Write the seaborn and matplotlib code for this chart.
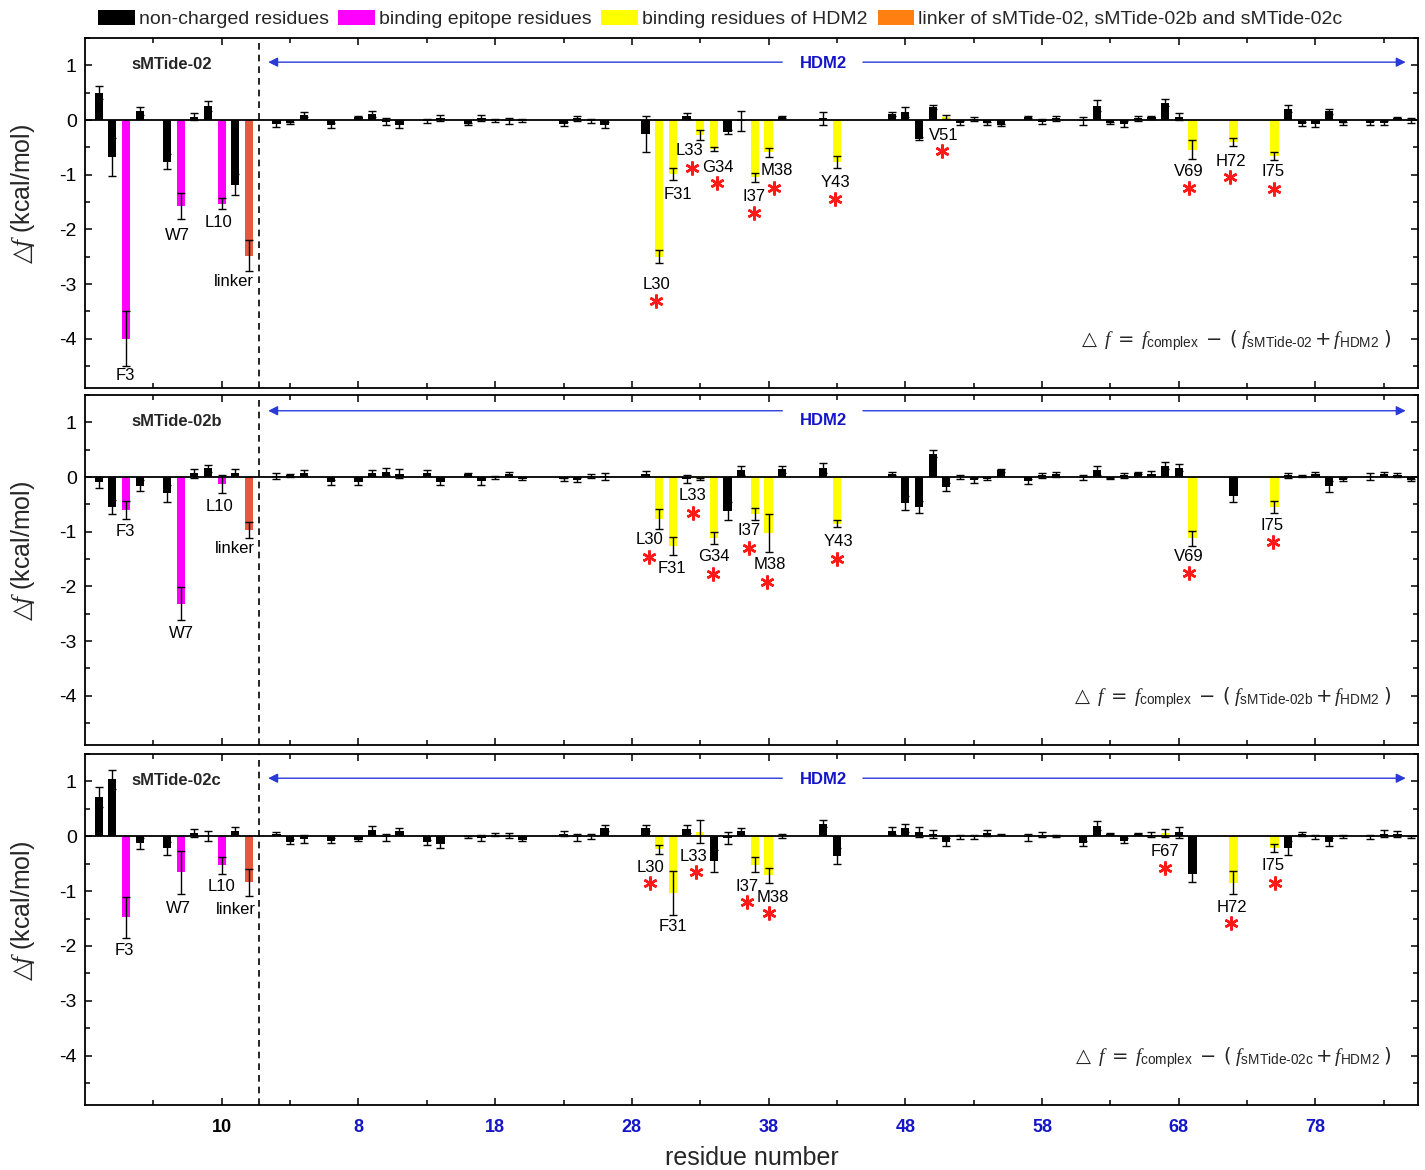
import numpy as np
import pandas as pd
import matplotlib
matplotlib.use('Agg')
import matplotlib.pyplot as plt
import seaborn as sns
from matplotlib.patches import Patch
from matplotlib.ticker import FixedLocator, MultipleLocator

sns.set_theme(style='ticks')
plt.rcParams['font.family'] = ['Liberation Sans', 'DejaVu Sans']
plt.rcParams['mathtext.fontset'] = 'custom'
plt.rcParams['mathtext.rm'] = 'DejaVu Sans'
plt.rcParams['mathtext.sf'] = 'Liberation Sans'
plt.rcParams['mathtext.it'] = 'Liberation Serif:italic'
plt.rcParams['axes.unicode_minus'] = False

# ---------------- data ----------------
peptide_positions = [1, 2, 3, 4, 6, 7, 8, 9, 10, 11, 12]
epitope_positions = [3, 7, 10]
linker_positions = [12]
hdm2_residues = [2, 3, 4, 6, 8, 9, 10, 11, 13, 14, 16, 17, 18, 19, 20,
                 23, 24, 25, 26, 29, 30, 31, 32, 33, 34, 35, 36, 37, 38, 39,
                 42, 43, 47, 48, 49, 50, 51, 52, 53, 54, 55, 57, 58, 59,
                 61, 62, 63, 64, 65, 66, 67, 68, 69, 72, 75, 76, 77, 78, 79, 80,
                 82, 83, 84, 85]
HDM2_OFFSET = 12  # HDM2 residue r is drawn at position r + 12

peptide_names = ['sMTide-02', 'sMTide-02b', 'sMTide-02c']

# sMTide-02
pep_02 = [0.50, -0.67, -4.00, 0.16, -0.76, -1.57, 0.06, 0.25, -1.53, -1.18, -2.48]
pep_02_err = [0.12, 0.35, 0.50, 0.07, 0.13, 0.24, 0.06, 0.09, 0.10, 0.19, 0.28]
hdm_02 = [-0.08, -0.05, 0.10, -0.10, 0.05, 0.11, -0.03, -0.09, -0.02, 0.04, -0.07, 0.04, -0.01, -0.02, -0.01,
          -0.07, 0.03, -0.02, -0.09, -0.25, -2.50, -0.99, 0.07, -0.27, -0.53, -0.22, -0.02, -1.05, -0.59, 0.06,
          0.03, -0.77, 0.11, 0.14, -0.34, 0.24, 0.06, -0.05, 0.02, -0.06, -0.09, 0.05, -0.03, 0.03,
          -0.02, 0.26, -0.06, -0.07, 0.03, 0.05, 0.32, 0.06, -0.54, -0.40, -0.66, 0.21, -0.07, -0.08, 0.16, -0.06,
          -0.05, -0.05, 0.04, -0.01]
hdm_02_err = [0.05, 0.02, 0.05, 0.04, 0.02, 0.05, 0.06, 0.05, 0.04, 0.06, 0.02, 0.05, 0.02, 0.05, 0.03,
              0.04, 0.04, 0.04, 0.06, 0.33, 0.12, 0.11, 0.06, 0.09, 0.04, 0.03, 0.18, 0.08, 0.08, 0.02,
              0.12, 0.11, 0.03, 0.09, 0.03, 0.03, 0.04, 0.04, 0.03, 0.03, 0.02, 0.02, 0.05, 0.04,
              0.08, 0.10, 0.02, 0.05, 0.04, 0.03, 0.06, 0.06, 0.17, 0.07, 0.07, 0.06, 0.04, 0.05, 0.05, 0.03,
              0.04, 0.04, 0.02, 0.04]
binding_02 = [30, 31, 33, 34, 37, 38, 43, 51, 69, 72, 75]

# sMTide-02b
pep_02b = [-0.10, -0.55, -0.60, -0.16, -0.30, -2.32, 0.07, 0.16, -0.13, 0.08, -0.97]
pep_02b_err = [0.10, 0.13, 0.16, 0.10, 0.16, 0.30, 0.08, 0.06, 0.17, 0.06, 0.14]
hdm_02b = [0.02, 0.03, 0.07, -0.10, -0.10, 0.07, 0.10, 0.06, 0.07, -0.10, 0.05, -0.08, -0.01, 0.05, -0.03,
           -0.04, -0.05, 0.02, 0.01, 0.06, -0.77, -1.26, -0.04, -0.04, -1.11, -0.62, 0.12, -0.68, -1.02, 0.14,
           0.17, -0.85, 0.06, -0.48, -0.55, 0.43, -0.18, 0.00, -0.06, -0.03, 0.12, -0.08, 0.03, 0.05,
           -0.01, 0.12, -0.02, 0.03, 0.07, 0.06, 0.21, 0.17, -1.12, -0.35, -0.54, 0.03, 0.02, 0.05, -0.17, -0.05,
           0.01, 0.05, 0.04, -0.06]
hdm_02b_err = [0.06, 0.03, 0.06, 0.05, 0.05, 0.05, 0.07, 0.08, 0.05, 0.05, 0.03, 0.06, 0.02, 0.04, 0.03,
               0.03, 0.04, 0.04, 0.07, 0.05, 0.18, 0.16, 0.07, 0.02, 0.11, 0.17, 0.08, 0.11, 0.35, 0.07,
               0.09, 0.07, 0.03, 0.13, 0.11, 0.07, 0.07, 0.04, 0.05, 0.03, 0.02, 0.04, 0.05, 0.05,
               0.04, 0.08, 0.01, 0.05, 0.02, 0.05, 0.06, 0.06, 0.14, 0.11, 0.11, 0.05, 0.02, 0.04, 0.10, 0.03,
               0.06, 0.04, 0.04, 0.02]
binding_02b = [30, 31, 33, 34, 37, 38, 43, 69, 75]

# sMTide-02c
pep_02c = [0.71, 1.04, -1.48, -0.13, -0.22, -0.66, 0.06, 0.00, -0.53, 0.10, -0.84]
pep_02c_err = [0.18, 0.17, 0.37, 0.10, 0.12, 0.40, 0.07, 0.09, 0.16, 0.07, 0.25]
hdm_02c = [0.05, -0.10, -0.05, -0.08, -0.06, 0.11, -0.02, 0.09, -0.11, -0.15, -0.02, -0.03, 0.03, 0.01, -0.06,
           0.05, -0.02, 0.00, 0.15, 0.15, -0.24, -1.03, 0.13, 0.08, -0.45, -0.04, 0.09, -0.52, -0.71, 0.00,
           0.23, -0.36, 0.10, 0.15, 0.07, 0.04, -0.10, -0.01, -0.01, 0.06, 0.03, -0.02, 0.03, 0.00,
           -0.13, 0.19, 0.05, -0.08, 0.05, 0.03, 0.06, 0.07, -0.69, -0.85, -0.21, -0.22, 0.04, -0.01, -0.11, -0.01,
           -0.01, 0.05, 0.04, -0.01]
hdm_02c_err = [0.02, 0.05, 0.07, 0.05, 0.03, 0.08, 0.07, 0.06, 0.05, 0.06, 0.02, 0.05, 0.03, 0.05, 0.03,
               0.04, 0.07, 0.05, 0.06, 0.05, 0.08, 0.40, 0.07, 0.21, 0.20, 0.11, 0.06, 0.14, 0.14, 0.04,
               0.07, 0.14, 0.06, 0.07, 0.09, 0.07, 0.07, 0.04, 0.04, 0.05, 0.01, 0.07, 0.05, 0.02,
               0.05, 0.08, 0.01, 0.04, 0.01, 0.05, 0.07, 0.10, 0.14, 0.21, 0.07, 0.13, 0.04, 0.04, 0.07, 0.03,
               0.04, 0.07, 0.06, 0.02]
binding_02c = [30, 31, 33, 37, 38, 67, 72, 75]

x_tick_positions = [10, 20, 30, 40, 50, 60, 70, 80, 90]
x_tick_labels = ['10', '8', '18', '28', '38', '48', '58', '68', '78']

legend_labels = ['non-charged residues', 'binding epitope residues',
                 'binding residues of HDM2', 'linker of sMTide-02, sMTide-02b and sMTide-02c']

# residue annotations (text, x, y) and significance stars (x, y)
labels_02 = [('F3', 2.93, -4.68), ('W7', 6.73, -2.11), ('L10', 9.8, -1.88), ('linker', 10.9, -2.95),
             ('L30', 41.8, -3.0), ('F31', 43.4, -1.36), ('L33', 44.2, -0.56), ('G34', 46.3, -0.86),
             ('I37', 48.95, -1.39), ('M38', 50.6, -0.92), ('Y43', 54.9, -1.15), ('V51', 62.8, -0.28),
             ('V69', 80.7, -0.94), ('H72', 83.8, -0.76), ('I75', 86.9, -0.95)]
stars_02 = [(41.8, -3.31), (44.4, -0.88), (46.2, -1.15), (48.9, -1.70), (50.4, -1.24), (54.85, -1.45),
            (62.7, -0.57), (80.75, -1.25), (83.75, -1.05), (87.0, -1.27)]
labels_02b = [('F3', 2.93, -1.0), ('W7', 7.02, -2.86), ('L10', 9.82, -0.54), ('linker', 10.97, -1.30),
              ('L30', 41.3, -1.15), ('F31', 42.9, -1.67), ('L33', 44.4, -0.33), ('G34', 46.0, -1.45),
              ('I37', 48.6, -0.98), ('M38', 50.1, -1.60), ('Y43', 55.1, -1.17), ('V69', 80.76, -1.45),
              ('I75', 86.8, -0.88)]
stars_02b = [(41.25, -1.47), (44.5, -0.65), (45.95, -1.77), (48.6, -1.30), (49.85, -1.92), (55.0, -1.49),
             (80.78, -1.76), (86.88, -1.19)]
labels_02c = [('F3', 2.88, -2.08), ('W7', 6.83, -1.32), ('L10', 10.0, -0.92), ('linker', 11.0, -1.34),
              ('L30', 41.38, -0.57), ('F31', 43.0, -1.65), ('L33', 44.54, -0.36), ('I37', 48.4, -0.91),
              ('M38', 50.3, -1.11), ('F67', 79.0, -0.28), ('H72', 83.92, -1.30), ('I75', 86.92, -0.54)]
stars_02c = [(41.33, -0.86), (44.66, -0.66), (48.45, -1.19), (50.05, -1.40), (79.0, -0.58),
             (83.8, -1.59), (87.04, -0.85)]

# ---------------- style ----------------
palette = {'non': '#000000', 'epitope': '#FF00FF', 'binding': '#FFFF00', 'linker': '#E35A3C'}
legend_colors = ['#000000', '#FF00FF', '#FFFF00', '#FF8010']
hue_order = ['non', 'epitope', 'binding', 'linker']
blue = '#1515C8'


def panel_frame(pep_vals, pep_errs, hdm_vals, hdm_errs, binding):
    rows = []
    for p, v, e in zip(peptide_positions, pep_vals, pep_errs):
        if p in linker_positions:
            cat = 'linker'
        elif p in epitope_positions:
            cat = 'epitope'
        else:
            cat = 'non'
        rows.append((p, v, e, cat))
    for r, v, e in zip(hdm2_residues, hdm_vals, hdm_errs):
        rows.append((r + HDM2_OFFSET, v, e, 'binding' if r in binding else 'non'))
    return pd.DataFrame(rows, columns=['pos', 'dG', 'err', 'cat'])


panels = [
    (panel_frame(pep_02, pep_02_err, hdm_02, hdm_02_err, binding_02), labels_02, stars_02),
    (panel_frame(pep_02b, pep_02b_err, hdm_02b, hdm_02b_err, binding_02b), labels_02b, stars_02b),
    (panel_frame(pep_02c, pep_02c_err, hdm_02c, hdm_02c_err, binding_02c), labels_02c, stars_02c),
]

W, H = 1425, 1170
fig = plt.figure(figsize=(W / 100, H / 100), dpi=100)
fig.patch.set_facecolor('white')
axes_px = [(38, 388), (395, 745), (754, 1105)]
left_px, right_px = 85, 1418

for i, ((df, labels, stars), (top, bot)) in enumerate(zip(panels, axes_px)):
    ax = fig.add_axes([left_px / W, 1 - bot / H, (right_px - left_px) / W, (bot - top) / H])
    ax.set_facecolor('white')
    sns.barplot(data=df, x='pos', y='dG', hue='cat', hue_order=hue_order, palette=palette,
                native_scale=True, dodge=False, width=0.6, errorbar=None, legend=False,
                saturation=1, linewidth=0, ax=ax, zorder=2)
    ax.errorbar(df['pos'], df['dG'], yerr=df['err'], fmt='none', ecolor='black',
                elinewidth=1.0, capsize=3, capthick=1.0, zorder=4)
    ax.axhline(0, color='black', lw=1.3, zorder=3)
    ax.axvline(12.75, color='black', lw=1.2, ls=(0, (4, 3)), zorder=3)

    ax.set_xlim(0, 97.5)
    ax.set_ylim(-4.9, 1.5)
    ax.xaxis.set_major_locator(FixedLocator(x_tick_positions))
    ax.xaxis.set_minor_locator(FixedLocator([5, 15, 25, 35, 45, 55, 65, 75, 85, 95]))
    ax.yaxis.set_major_locator(MultipleLocator(1))
    ax.yaxis.set_minor_locator(MultipleLocator(0.5))
    ax.tick_params(which='both', direction='in', top=True, right=True, width=1.1, colors='black')
    ax.tick_params(which='major', length=5)
    ax.tick_params(which='minor', length=3.5)
    ax.tick_params(axis='y', labelsize=14, pad=6)
    ax.set_yticks([1, 0, -1, -2, -3, -4])
    ax.set_yticklabels(['1', '0', '-1', '-2', '-3', '-4'])
    for sp in ax.spines.values():
        sp.set_linewidth(1.3)
        sp.set_color('black')
    ax.grid(False)

    ax.set_ylabel(r'$\triangle\!\!f$ (kcal/mol)', fontsize=18)
    ax.yaxis.set_label_coords(-0.036, 0.55)

    if i < 2:
        ax.tick_params(axis='x', labelbottom=False)
        ax.set_xlabel('')
    else:
        ax.set_xticks(x_tick_positions)
        ax.set_xticklabels(x_tick_labels, fontsize=13, fontweight='bold')
        for j, t in enumerate(ax.get_xticklabels()):
            t.set_color('black' if j == 0 else blue)
        ax.tick_params(axis='x', pad=10)
        ax.set_xlabel('residue number', fontsize=18, labelpad=7)

    # panel name
    ax.text(0.035, 0.925, peptide_names[i], transform=ax.transAxes, fontsize=12,
            fontweight='bold', ha='left', va='center')

    # HDM2 arrow
    tr = ax.get_xaxis_transform()
    arrow_y = 0.955 if i == 1 else 0.931
    ax.annotate('', xy=(13.4, arrow_y), xytext=(51.0, arrow_y), xycoords=tr, textcoords=tr,
                arrowprops=dict(arrowstyle='-|>', color='#2a3ad8', lw=1.0, mutation_scale=14,
                                shrinkA=0, shrinkB=0))
    ax.annotate('', xy=(96.6, arrow_y), xytext=(56.9, arrow_y), xycoords=tr, textcoords=tr,
                arrowprops=dict(arrowstyle='-|>', color='#2a3ad8', lw=1.0, mutation_scale=14,
                                shrinkA=0, shrinkB=0))
    ax.text(54.0, 0.928, 'HDM2', transform=tr, fontsize=12, fontweight='bold', color=blue,
            ha='center', va='center')

    # residue labels and stars
    for txt, x, y in labels:
        ax.text(x, y, txt, fontsize=12, ha='center', va='center', color='black', zorder=5)
    sx = [s[0] for s in stars]
    sy = [s[1] for s in stars]
    ax.plot(sx, sy, ls='none', marker=(6, 2, 0), ms=10, mew=1.8, color='#FF1A1A', zorder=5)

    # formula
    sub = peptide_names[i].replace('-', '\u2010')
    formula = (r'$\triangle\ f\ =\ f_{\mathsf{complex}}\ -\ (\ f_{\mathsf{' + sub +
               r'}}+ f_{\mathsf{HDM2}}\ )$')
    ax.text(0.98, 0.135, formula, transform=ax.transAxes, fontsize=14, ha='right', va='center')

handles = [Patch(facecolor=c, edgecolor='none', label=l) for c, l in zip(legend_colors, legend_labels)]
fig.legend(handles=handles, loc='upper left', bbox_to_anchor=(88 / W, 1.0), ncol=4, frameon=False,
           fontsize=14, handlelength=1.9, handleheight=0.8, handletextpad=0.2, columnspacing=0.5,
           borderaxespad=0, borderpad=0.5)

fig.savefig('out.png', dpi=100, facecolor='white')
